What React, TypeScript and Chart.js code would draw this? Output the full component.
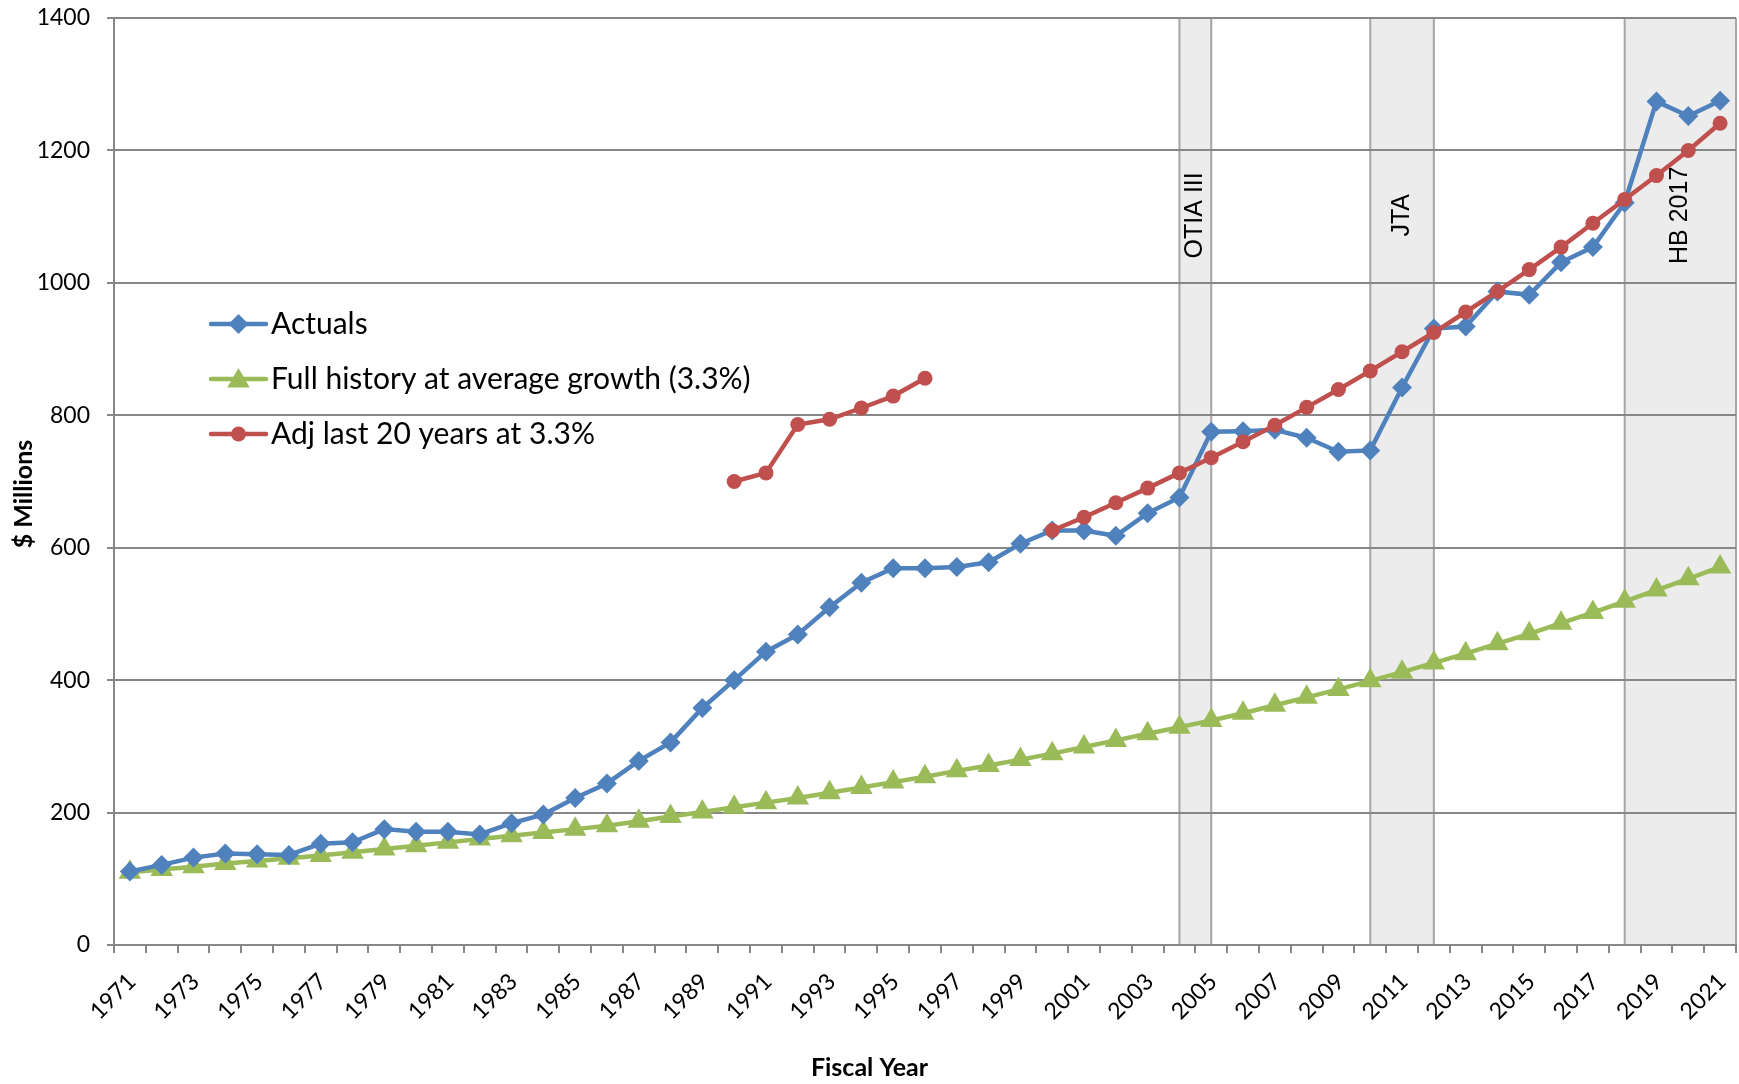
import React, { useEffect, useRef } from 'react';
import { Chart, registerables } from 'chart.js';

Chart.register(...registerables);

const years = [
  '1971', '1972', '1973', '1974', '1975', '1976', '1977', '1978', '1979', '1980',
  '1981', '1982', '1983', '1984', '1985', '1986', '1987', '1988', '1989', '1990',
  '1991', '1992', '1993', '1994', '1995', '1996', '1997', '1998', '1999', '2000',
  '2001', '2002', '2003', '2004', '2005', '2006', '2007', '2008', '2009', '2010',
  '2011', '2012', '2013', '2014', '2015', '2016', '2017', '2018', '2019', '2020',
  '2021',
];

const actuals = [
  111, 121, 132, 138, 137, 136, 153, 155, 175, 171,
  171, 167, 184, 197, 222, 244, 278, 306, 358, 400,
  443, 469, 510, 547, 569, 569, 571, 578, 606, 626,
  626, 618, 652, 676, 775, 776, 778, 766, 745, 747,
  842, 931, 934, 987, 982, 1031, 1054, 1121, 1274, 1252,
  1275,
];

const fullHistory = [
  110, 114, 118, 123, 127, 131, 135, 140, 145, 150,
  155, 160, 165, 170, 175, 180, 187, 194, 201, 208,
  215, 222, 230, 238, 246, 254, 263, 271, 280, 289,
  299, 309, 319, 329, 339, 350, 362, 374, 386, 399,
  412, 426, 440, 455, 470, 486, 502, 519, 536, 553,
  571,
];

const adjLast20 = [
  null, null, null, null, null, null, null, null, null, null,
  null, null, null, null, null, null, null, null, null, 700,
  713, 786, 794, 811, 829, 856, null, null, null, 626,
  646, 668, 690, 713, 736, 760, 785, 812, 839, 867,
  896, 925, 956, 987, 1020, 1054, 1090, 1126, 1162, 1200,
  1241,
];

const seriesNames = [
  'Actuals',
  'Full history at average growth (3.3%)',
  'Adj last 20 years at 3.3%',
];

const regionLabels = ['OTIA III', 'JTA', 'HB 2017'];
const regionStartYears = [2004, 2010, 2018];
const regionEndYears = [2005, 2012, 2022];
const regionLabelValue = 1102;

const yMin = 0;
const yMax = 1400;
const yStep = 200;

const xTitle = 'Fiscal Year';
const yTitle = '$ Millions';

const BLUE = '#4F81BD';
const RED = '#C0504D';
const GREEN = '#9BBB59';
const GRID = '#878787';
const SHADE = '#ececec';
const SHADE_BORDER = '#a6a6a6';
const FONT = 'Lato, "Open Sans", sans-serif';

function drawMarker(ctx: CanvasRenderingContext2D, style: string, x: number, y: number, r: number, color: string) {
  ctx.save();
  ctx.fillStyle = color;
  ctx.beginPath();
  if (style === 'rectRot') {
    ctx.moveTo(x - r, y);
    ctx.lineTo(x, y - r);
    ctx.lineTo(x + r, y);
    ctx.lineTo(x, y + r);
  } else if (style === 'triangle') {
    ctx.moveTo(x, y - r);
    ctx.lineTo(x + r * Math.sin((2 * Math.PI) / 3), y - r * Math.cos((2 * Math.PI) / 3));
    ctx.lineTo(x + r * Math.sin((4 * Math.PI) / 3), y - r * Math.cos((4 * Math.PI) / 3));
  } else {
    ctx.arc(x, y, r, 0, Math.PI * 2);
  }
  ctx.closePath();
  ctx.fill();
  ctx.restore();
}

const regionPlugin = {
  id: 'regions',
  beforeDraw(chart: any) {
    const { ctx, chartArea: ca, scales } = chart;
    const x = scales.x;
    const y = scales.y;
    const first = Number(years[0]);
    ctx.save();
    for (let i = 0; i < regionLabels.length; i++) {
      const l = Math.max(x.getPixelForValue(regionStartYears[i] - first), ca.left);
      const r = Math.min(x.getPixelForValue(regionEndYears[i] - first), ca.right);
      ctx.fillStyle = SHADE;
      ctx.fillRect(l, ca.top, r - l, ca.bottom - ca.top);
      ctx.strokeStyle = SHADE_BORDER;
      ctx.lineWidth = 2;
      ctx.beginPath();
      ctx.moveTo(l, ca.top);
      ctx.lineTo(l, ca.bottom);
      ctx.moveTo(r, ca.top);
      ctx.lineTo(r, ca.bottom);
      ctx.stroke();
      ctx.save();
      ctx.translate((l + r) / 2, y.getPixelForValue(regionLabelValue));
      ctx.rotate(-Math.PI / 2);
      ctx.fillStyle = '#000';
      ctx.font = '25px "Liberation Sans", Arial, sans-serif';
      ctx.textAlign = 'center';
      ctx.textBaseline = 'middle';
      ctx.fillText(regionLabels[i], 0, 0);
      ctx.restore();
    }
    ctx.restore();
  },
};

const overlayPlugin = {
  id: 'overlay',
  afterDraw(chart: any) {
    const { ctx, chartArea: ca } = chart;
    ctx.save();
    // legend
    const colors = [BLUE, GREEN, RED];
    const styles = ['rectRot', 'triangle', 'circle'];
    const radii = [10, 13, 7.5];
    const lx = ca.left + 97;
    const lineLen = 55;
    for (let i = 0; i < seriesNames.length; i++) {
      const ly = ca.top + 306 + i * 55;
      ctx.strokeStyle = colors[i];
      ctx.lineWidth = 4.5;
      ctx.lineCap = 'round';
      ctx.beginPath();
      ctx.moveTo(lx, ly);
      ctx.lineTo(lx + lineLen, ly);
      ctx.stroke();
      drawMarker(ctx, styles[i], lx + lineLen / 2, ly + (styles[i] === 'triangle' ? 2 : 0), radii[i], colors[i]);
      ctx.fillStyle = '#000';
      ctx.font = `30px ${FONT}`;
      ctx.textAlign = 'left';
      ctx.textBaseline = 'middle';
      ctx.fillText(seriesNames[i], lx + lineLen + 5, ly);
    }
    // axis titles
    ctx.font = `bold 25px ${FONT}`;
    ctx.fillStyle = '#000';
    ctx.textAlign = 'center';
    ctx.textBaseline = 'middle';
    ctx.fillText(xTitle, chart.width / 2, 1068);
    ctx.save();
    ctx.translate(24, 494);
    ctx.rotate(-Math.PI / 2);
    ctx.fillText(yTitle, 0, 0);
    ctx.restore();
    ctx.restore();
  },
};

export default function App() {
  const canvasRef = useRef<HTMLCanvasElement | null>(null);

  useEffect(() => {
    const canvas = canvasRef.current;
    if (!canvas) return;
    Chart.defaults.font.family = FONT;
    const chart = new Chart(canvas, {
      type: 'line',
      data: {
        labels: years,
        datasets: [
          {
            label: seriesNames[0],
            data: actuals,
            borderColor: BLUE,
            backgroundColor: BLUE,
            borderWidth: 4.5,
            pointStyle: 'rectRot',
            pointRadius: 10,
            pointBorderWidth: 0,
            pointBackgroundColor: BLUE,
            tension: 0,
            order: 1,
          },
          {
            label: seriesNames[1],
            data: fullHistory,
            borderColor: GREEN,
            backgroundColor: GREEN,
            borderWidth: 4.5,
            pointStyle: 'triangle',
            pointRadius: 13,
            pointBorderWidth: 0,
            pointBackgroundColor: GREEN,
            tension: 0,
            order: 2,
          },
          {
            label: seriesNames[2],
            data: adjLast20,
            borderColor: RED,
            backgroundColor: RED,
            borderWidth: 4.5,
            pointStyle: 'circle',
            pointRadius: 7.5,
            pointBorderWidth: 0,
            pointBackgroundColor: RED,
            tension: 0,
            spanGaps: false,
            order: 0,
          },
        ],
      },
      options: {
        responsive: false,
        animation: false,
        devicePixelRatio: 1,
        layout: { autoPadding: false, padding: { top: 18, right: 3, bottom: 0, left: 0 } },
        plugins: {
          legend: { display: false },
          tooltip: { enabled: false },
        },
        scales: {
          x: {
            type: 'category',
            offset: true,
            grid: {
              offset: true,
              drawOnChartArea: false,
              drawTicks: true,
              tickLength: 8,
              color: GRID,
              lineWidth: 2,
            },
            border: { display: true, color: GRID, width: 2 },
            ticks: {
              autoSkip: false,
              minRotation: 45,
              maxRotation: 45,
              color: '#000',
              font: { size: 23, family: FONT },
              padding: 15,
              labelOffset: 2,
              callback: (_v: any, i: number) => (i % 2 === 0 ? years[i] : ''),
            },
            afterFit: (s: any) => {
              s.height = 139;
              s.paddingLeft = 0;
              s.paddingRight = 0;
            },
          },
          y: {
            min: yMin,
            max: yMax,
            ticks: {
              stepSize: yStep,
              color: '#000',
              font: { size: 23, family: FONT },
              padding: 17,
              callback: (v: any) => String(v),
            },
            grid: {
              color: GRID,
              lineWidth: 2,
              drawTicks: true,
              tickLength: 7,
            },
            border: { display: true, color: GRID, width: 2 },
            afterFit: (s: any) => {
              s.width = 114;
              s.paddingTop = 0;
              s.paddingBottom = 0;
            },
          },
        },
      },
      plugins: [regionPlugin, overlayPlugin],
    } as any);
    return () => chart.destroy();
  }, []);

  return (
    <div style={{ position: 'absolute', left: 0, top: 0, width: 1739, height: 1084, background: '#fff' }}>
      <canvas ref={canvasRef} width={1739} height={1084} style={{ display: 'block' }} />
    </div>
  );
}
